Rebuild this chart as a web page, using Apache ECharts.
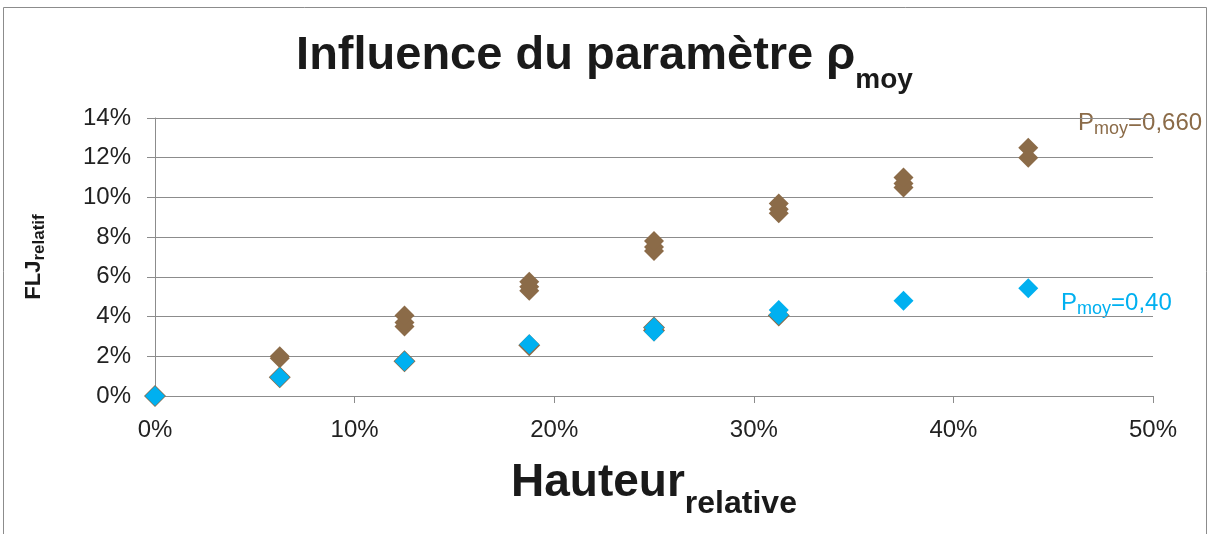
<!DOCTYPE html>
<html>
<head>
<meta charset="utf-8">
<script src="https://cdn.jsdelivr.net/npm/echarts@6/dist/echarts.min.js"></script>
<style>
  html, body { margin: 0; padding: 0; background: #fff; }
  #main { width: 1209px; height: 534px; }
</style>
</head>
<body>
<div id="main"></div>
<script>
// hauteur relative (%) / FLJ relatif (%)
var xTicks = [0, 10, 20, 30, 40, 50]
var yTicks = [0, 2, 4, 6, 8, 10, 12, 14]

// rho moy = 0,660 (brown), several runs per height
var rho660 = [
  [6.25, 1.9], [6.25, 2.0],
  [12.5, 3.5], [12.5, 3.7], [12.5, 4.05],
  [18.75, 5.3], [18.75, 5.5], [18.75, 5.75],
  [25, 7.3], [25, 7.5], [25, 7.8],
  [31.25, 9.2], [31.25, 9.4], [31.25, 9.7],
  [37.5, 10.5], [37.5, 10.7], [37.5, 11.0],
  [43.75, 12.0], [43.75, 12.5]
]
// brown runs sitting right under the blue ones
var rho660Low = [
  [0, 0], [6.25, 0.95], [12.5, 1.75], [18.75, 2.55],
  [25, 3.3], [25, 3.45], [31.25, 4.05]
]
// rho moy = 0,40 (blue)
var rho040 = [
  [0, 0], [6.25, 0.95], [12.5, 1.75], [18.75, 2.6],
  [25, 3.25], [25, 3.45], [31.25, 4.08], [31.25, 4.33],
  [37.5, 4.8], [43.75, 5.42]
]

var brown = '#8b6b48'
var blue = '#00b0f0'

var myChart = echarts.init(document.getElementById('main'))
var option = {
  backgroundColor: '#fff',
  animation: false,
  textStyle: { fontFamily: 'Liberation Sans, Arial, sans-serif' },
  title: {
    left: 'center',
    top: 21,
    text: '{t|Influence du paramètre ρ}{s|moy}',
    textStyle: {
      rich: {
        t: { fontSize: 47, fontWeight: 'bold', color: '#1a1a1a', lineHeight: 54, verticalAlign: 'bottom' },
        s: { fontSize: 28, fontWeight: 'bold', color: '#1a1a1a', lineHeight: 54, verticalAlign: 'bottom', padding: [0, 0, -14, 0] }
      }
    }
  },
  grid: { left: 155, right: 56, top: 118, bottom: 138, containLabel: false, outerBoundsMode: 'none' },
  xAxis: {
    type: 'value',
    min: xTicks[0],
    max: xTicks[xTicks.length - 1],
    interval: 10,
    name: '{h|Hauteur}{s|relative}',
    nameLocation: 'middle',
    nameGap: 58,
    nameTextStyle: {
      rich: {
        h: { fontSize: 46, fontWeight: 'bold', color: '#1a1a1a', lineHeight: 52, verticalAlign: 'bottom' },
        s: { fontSize: 32, fontWeight: 'bold', color: '#1a1a1a', lineHeight: 52, verticalAlign: 'bottom', padding: [0, 0, -14, 0] }
      }
    },
    axisLine: { show: true, lineStyle: { color: '#8c8c8c', width: 1 } },
    axisTick: { show: true, inside: false, length: 7, lineStyle: { color: '#8c8c8c' } },
    axisLabel: { fontSize: 24, color: '#222', margin: 22, formatter: '{value}%' },
    splitLine: { show: false }
  },
  yAxis: {
    type: 'value',
    min: yTicks[0],
    max: yTicks[yTicks.length - 1],
    interval: 2,
    name: '{h|FLJ}{s|relatif}',
    nameLocation: 'middle',
    nameRotate: 90,
    nameGap: 110,
    nameTextStyle: {
      rich: {
        h: { fontSize: 22, fontWeight: 'bold', color: '#1a1a1a', lineHeight: 26, verticalAlign: 'bottom' },
        s: { fontSize: 17, fontWeight: 'bold', color: '#1a1a1a', lineHeight: 26, verticalAlign: 'bottom', padding: [0, 0, -3, 0] }
      }
    },
    axisLine: { show: true, lineStyle: { color: '#8c8c8c', width: 1 } },
    axisTick: { show: true, inside: false, length: 8, lineStyle: { color: '#8c8c8c' } },
    axisLabel: { fontSize: 24, color: '#222', margin: 24, formatter: '{value}%' },
    splitLine: { show: true, lineStyle: { color: '#8c8c8c', width: 1 } }
  },
  graphic: [
    {
      type: 'rect',
      silent: true,
      shape: { x: 3.5, y: 7.5, width: 1203, height: 560 },
      style: { fill: 'none', stroke: '#8c8c8c', lineWidth: 1 }
    },
    {
      type: 'text',
      left: 1078,
      top: 111,
      style: {
        text: '{p|P}{s|moy}{p|=0,660}',
        rich: {
          p: { fontSize: 24, fill: brown, lineHeight: 28, verticalAlign: 'bottom' },
          s: { fontSize: 18, fill: brown, lineHeight: 28, verticalAlign: 'bottom', padding: [0, 0, -3, 0] }
        }
      }
    },
    {
      type: 'text',
      left: 1061,
      top: 291,
      style: {
        text: '{p|P}{s|moy}{p|=0,40}',
        rich: {
          p: { fontSize: 24, fill: blue, lineHeight: 28, verticalAlign: 'bottom' },
          s: { fontSize: 18, fill: blue, lineHeight: 28, verticalAlign: 'bottom', padding: [0, 0, -3, 0] }
        }
      }
    }
  ],
  series: [
    {
      name: 'ρmoy=0,660',
      type: 'scatter',
      symbol: 'diamond',
      symbolSize: 20,
      data: rho660,
      itemStyle: { color: brown, opacity: 1 }
    },
    {
      name: 'ρmoy=0,660 bas',
      type: 'scatter',
      symbol: 'diamond',
      symbolSize: 22,
      data: rho660Low,
      itemStyle: { color: brown, opacity: 1 }
    },
    {
      name: 'ρmoy=0,40',
      type: 'scatter',
      symbol: 'diamond',
      symbolSize: 20,
      data: rho040,
      itemStyle: { color: blue, opacity: 1 }
    }
  ]
}
myChart.setOption(option)
window.addEventListener('resize', function() {
  myChart.resize()
})
</script>
</body>
</html>
